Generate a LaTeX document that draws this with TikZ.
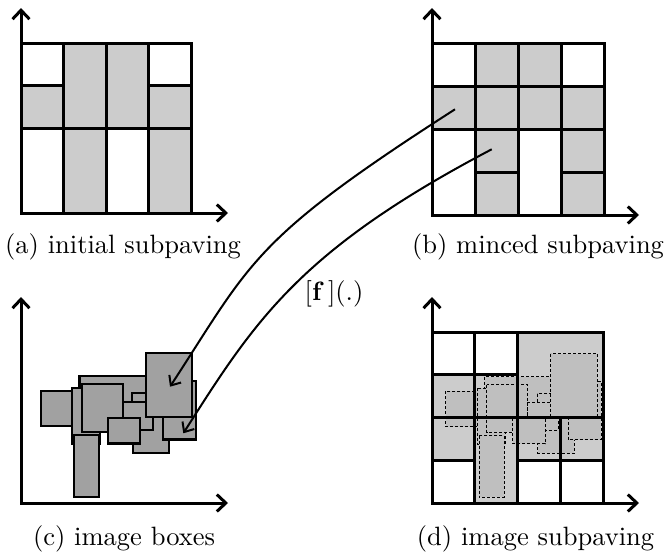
\documentclass[tikz,border=0pt]{standalone}
\usepackage{fontspec}
\setmainfont{lmroman10-regular}[Extension=.otf,BoldFont=lmroman10-bold]
\usetikzlibrary{arrows.meta}
\definecolor{pave}{gray}{0.80}
\definecolor{boxfill}{gray}{0.63}
\definecolor{ghostfill}{gray}{0.75}

% the eleven image boxes, back to front
\newcommand\imageboxlist[1]{%
  \path[#1] (79.5,376) rectangle (150,420);   % wide box
  \path[#1] (40.7,390.7) rectangle (72.7,426);
  \path[#1] (72,387.7) rectangle (100,444);
  \path[#1] (81.7,384) rectangle (122.7,431.7);
  \path[#1] (74,435) rectangle (99,496.7);     % tall box
  \path[#1] (132,393) rectangle (146.7,403.3);
  \path[#1] (132.7,416.7) rectangle (169,452.7);
  \path[#1] (122.7,401.7) rectangle (153,430);
  \path[#1] (163,381) rectangle (196,439.3);
  \path[#1] (107.7,417.7) rectangle (140,443.3);
  \path[#1] (145.7,353) rectangle (192,416.7); % large front box
}

\begin{document}
\begin{tikzpicture}[x=1pt,y=-1pt,line join=miter,
  axis/.style={line width=3pt,
    {Straight Barb[length=9pt,width=17pt]}-{Straight Barb[length=9pt,width=17pt]}},
  cell/.style={draw,line width=3pt},
  full/.style={cell,fill=pave},
  empty/.style={cell,fill=white},
  imgbox/.style={draw,fill=boxfill,line width=2.4pt},
  ghost/.style={draw,fill=ghostfill,line width=0.9pt,dash pattern=on 3pt off 2pt},
  mapping/.style={line width=2pt,-{Straight Barb[length=8pt,width=14pt]}},
  caption/.style={anchor=base,inner sep=0pt,font=\fontsize{26.5}{30}\selectfont}]
\useasboundingbox (0,0) rectangle (665,552);

% ---------- (a) initial subpaving ----------
\path[empty] (21,43) rectangle (63.5,85.5);
\path[full]  (21,85.5) rectangle (63.5,128);
\path[empty] (21,128) rectangle (63.5,213);
\path[full]  (63.5,43) rectangle (106,128);
\path[full]  (63.5,128) rectangle (106,213);
\path[full]  (106,43) rectangle (148.5,128);
\path[empty] (106,128) rectangle (148.5,213);
\path[empty] (148.5,43) rectangle (191,85.5);
\path[full]  (148.5,85.5) rectangle (191,128);
\path[full]  (148.5,128) rectangle (191,213);
\coordinate (aO) at (21,213);
\coordinate (aX) at (228,213);
\coordinate (aY) at (21,8);
\draw[axis] (aY) -- (aO) -- (aX);
\node[caption] (capA) at (123,253) {(a) initial subpaving};

% ---------- (b) minced subpaving ----------
\path[empty] (432,43) rectangle (475,86);
\path[full]  (475,43) rectangle (518,86);
\path[full]  (518,43) rectangle (561,86);
\path[empty] (561,43) rectangle (604,86);
\path[full]  (432,86) rectangle (475,129);
\path[full]  (475,86) rectangle (518,129);
\path[full]  (518,86) rectangle (561,129);
\path[full]  (561,86) rectangle (604,129);
\path[empty] (432,129) rectangle (475,215);
\path[full]  (475,129) rectangle (518,172);
\path[full]  (475,172) rectangle (518,215);
\path[empty] (518,129) rectangle (561,215);
\path[full]  (561,129) rectangle (604,172);
\path[full]  (561,172) rectangle (604,215);
\coordinate (bO) at (432,215);
\coordinate (bX) at (639,215);
\coordinate (bY) at (432,8);
\draw[axis] (bY) -- (bO) -- (bX);
\node[caption] (capB) at (538,253) {(b) minced subpaving};

% ---------- (c) image boxes ----------
\imageboxlist{imgbox}
\coordinate (cO) at (21,503);
\coordinate (cX) at (228,503);
\coordinate (cY) at (21,297);
\draw[axis] (cY) -- (cO) -- (cX);
\node[caption] (capC) at (124,545) {(c) image boxes};

% ---------- (d) image subpaving ----------
\fill[pave] (517.5,332) rectangle (603,417.5);
\fill[pave] (432,374.75) rectangle (517.5,460.25);
\fill[pave] (474.75,417.5) rectangle (517.5,503);
\fill[pave] (517.5,417.5) rectangle (603,460.25);
\begin{scope}[shift={(405,0.5)}]
\imageboxlist{ghost}
\end{scope}
\draw[cell] (432,332) rectangle (474.75,374.75);
\draw[cell] (474.75,332) rectangle (517.5,374.75);
\draw[cell] (517.5,332) rectangle (603,417.5);
\draw[cell] (432,374.75) rectangle (474.75,417.5);
\draw[cell] (474.75,374.75) rectangle (517.5,417.5);
\draw[cell] (432,417.5) rectangle (474.75,460.25);
\draw[cell] (474.75,417.5) rectangle (517.5,503);
\draw[cell] (517.5,417.5) rectangle (560.25,460.25);
\draw[cell] (560.25,417.5) rectangle (603,460.25);
\draw[cell] (432,460.25) rectangle (474.75,503);
\draw[cell] (517.5,460.25) rectangle (560.25,503);
\draw[cell] (560.25,460.25) rectangle (603,503);
\coordinate (dO) at (432,503);
\coordinate (dX) at (639,503);
\coordinate (dY) at (432,297);
\draw[axis] (dY) -- (dO) -- (dX);
\node[caption] (capD) at (535.5,545) {(d) image subpaving};

% ---------- inclusion function mapping boxes of (b) onto (c) ----------
\coordinate (src1) at (455,109.3);
\coordinate (dst1) at (170,386.7);
\coordinate (src2) at (491.7,149.3);
\coordinate (dst2) at (183.3,433.3);
\draw[mapping] (src1) .. controls (251.3,240) and (251.8,261.3) .. (dst1);
\draw[mapping] (src2) .. controls (299.1,250.5) and (254.8,320.9) .. (dst2);
\node[caption] (map) at (334,300.4) {[\textbf{f}\,](.)};
\end{tikzpicture}
\end{document}
